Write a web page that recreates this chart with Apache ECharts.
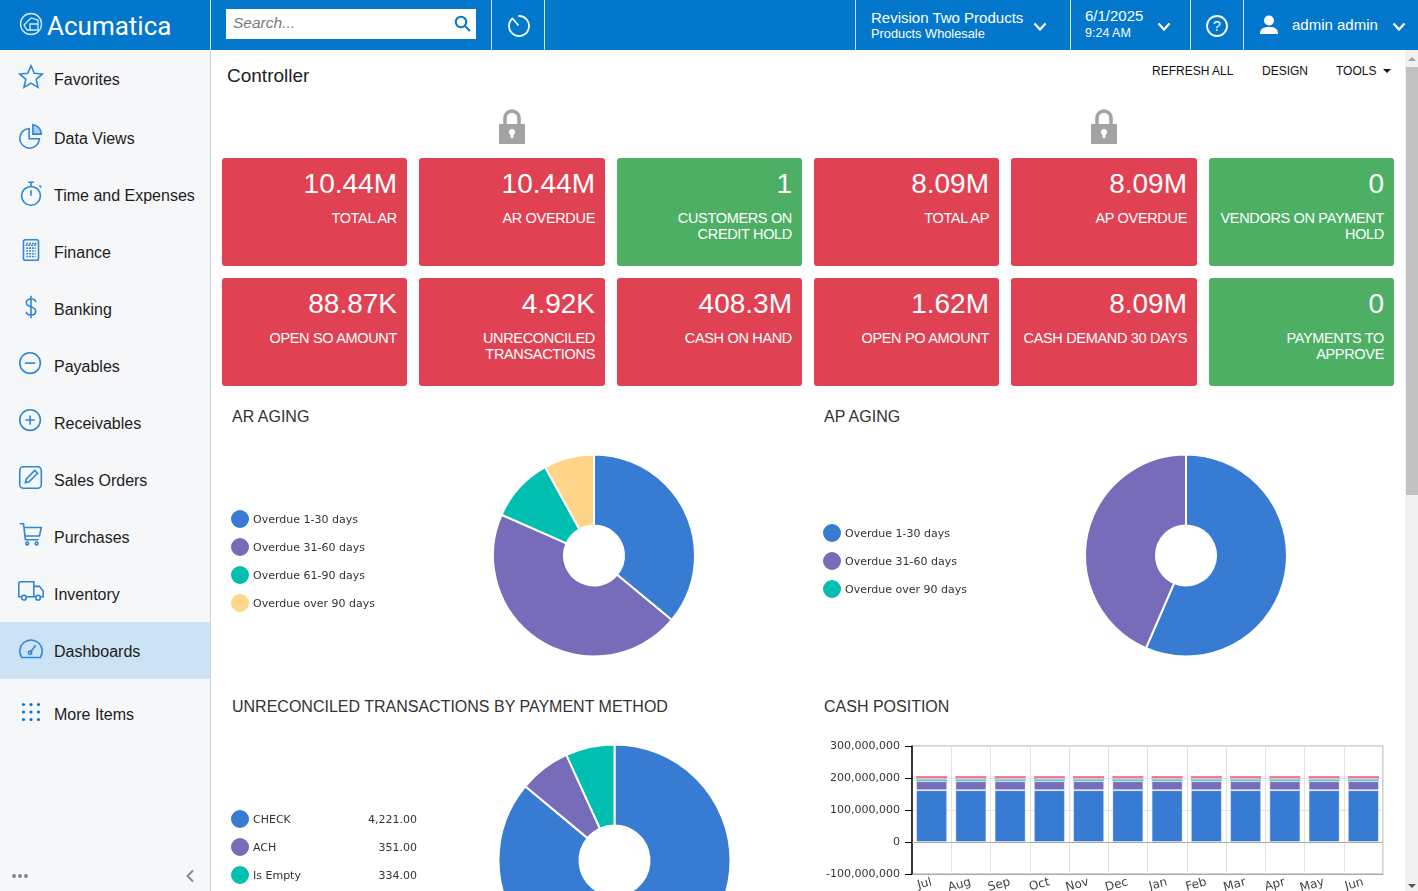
<!DOCTYPE html>
<html>
<head>
<meta charset="utf-8">
<title>Controller</title>
<script src="https://cdn.jsdelivr.net/npm/echarts@6/dist/echarts.min.js"></script>
<style>
  html, body { margin: 0; width: 1418px; height: 891px; overflow: hidden; background: #fff; font-family: "Liberation Sans", Arial, sans-serif; color: #222; }
  .abs { position: absolute; }
  #header { left: 0; top: 0; width: 1418px; height: 50px; background: #0277cc; color: #fff; }
  .sep { position: absolute; top: 0; width: 1px; height: 50px; background: #cfe4f5; }
  #sidebar { left: 0; top: 50px; width: 210px; height: 841px; background: #f5f7f9; border-right: 1px solid #d0d4d8; }
  .nav { position: absolute; left: 54px; font-size: 16px; line-height: 20px; color: #1c1c1c; white-space: nowrap; }
  .nav-icon { position: absolute; left: 16px; width: 30px; height: 30px; }
  #active { position: absolute; left: 0; top: 572px; width: 210px; height: 57px; background: #cbe3f4; }
  .card { position: absolute; width: 185px; height: 108px; border-radius: 3px; color: #fff; text-align: right; box-sizing: border-box; }
  .card .val { position: absolute; right: 10px; top: 9px; font-size: 28px; line-height: 34px; white-space: nowrap; }
  .card .lbl { position: absolute; right: 10px; top: 52px; width: 166px; font-size: 14.5px; line-height: 16px; letter-spacing: -0.33px; }
  .title { position: absolute; font-size: 16px; line-height: 20px; color: #333; white-space: nowrap; }
  .tool { position: absolute; top: 64px; font-size: 12px; line-height: 14px; color: #111; white-space: nowrap; }
  .chart { position: absolute; }
</style>
</head>
<body>
<div class="abs" id="header">
  <svg class="abs" style="left:19px;top:12px" width="25" height="25" viewBox="0 0 25 25" fill="none" stroke="#d9ecf9" stroke-width="1.3"><circle cx="12" cy="12" r="10.5"/><path d="M5 13 L12 6 L19 8 L19 18 L8 18 Z"/><path d="M11 18 L11 12 L19 12"/></svg>
  <div class="abs" style="left:47px;top:9px;font:400 26px/34px Roboto,sans-serif">Acumatica</div>
  <div class="sep" style="left:210px"></div>
  <div class="abs" style="left:226px;top:9px;width:250px;height:30px;background:#fff"></div>
  <div class="abs" style="left:233px;top:13px;font-size:15.5px;font-style:italic;color:#7b7b7b;line-height:20px">Search...</div>
  <svg class="abs" style="left:453px;top:14px" width="20" height="20" viewBox="0 0 20 20" fill="none" stroke="#0277cc" stroke-width="2"><circle cx="8" cy="8" r="5.2"/><path d="M12 12 L17 17"/></svg>
  <div class="sep" style="left:491px"></div>
  <svg class="abs" style="left:506px;top:13px" width="25" height="25" viewBox="0 0 25 25" fill="none" stroke="#fff" stroke-width="1.8"><path d="M7 5 A10 10 0 1 0 12.5 3"/><path d="M7 6 L12.5 12.5"/></svg>
  <div class="sep" style="left:544px"></div>
  <div class="sep" style="left:855px"></div>
  <div class="abs" style="left:871px;top:10px;font-size:15px;line-height:16px;white-space:nowrap">Revision Two Products</div>
  <div class="abs" style="left:871px;top:26px;font-size:12.8px;line-height:15px;white-space:nowrap">Products Wholesale</div>
  <svg class="abs" style="left:1033px;top:22px" width="14" height="10" viewBox="0 0 14 10" fill="none" stroke="#fff" stroke-width="2.2"><path d="M1.5 1.5 L7 7.5 L12.5 1.5"/></svg>
  <div class="sep" style="left:1070px"></div>
  <div class="abs" style="left:1085px;top:8px;font-size:15px;line-height:16px">6/1/2025</div>
  <div class="abs" style="left:1085px;top:26px;font-size:12.5px;line-height:15px">9:24 AM</div>
  <svg class="abs" style="left:1157px;top:22px" width="14" height="10" viewBox="0 0 14 10" fill="none" stroke="#fff" stroke-width="2.2"><path d="M1.5 1.5 L7 7.5 L12.5 1.5"/></svg>
  <div class="sep" style="left:1190px"></div>
  <svg class="abs" style="left:1205px;top:14px" width="24" height="24" viewBox="0 0 24 24" fill="none" stroke="#fff" stroke-width="1.8"><circle cx="12" cy="12" r="10"/><text x="12" y="17" text-anchor="middle" font-size="14" font-family="Liberation Sans" fill="#fff" stroke="none">?</text></svg>
  <div class="sep" style="left:1243px"></div>
  <svg class="abs" style="left:1258px;top:14px" width="22" height="22" viewBox="0 0 22 22" fill="#fff"><circle cx="11" cy="6.5" r="5"/><path d="M2 20 C2 14 6 13 11 13 C16 13 20 14 20 20 Z"/></svg>
  <div class="abs" style="left:1292px;top:16px;font-size:15px;line-height:18px;white-space:nowrap">admin admin</div>
  <svg class="abs" style="left:1392px;top:22px" width="14" height="10" viewBox="0 0 14 10" fill="none" stroke="#fff" stroke-width="2.2"><path d="M1.5 1.5 L7 7.5 L12.5 1.5"/></svg>
</div>

<div class="abs" id="sidebar"><div id="active"></div></div>

<div class="abs" style="left:227px;top:64px;font-size:19px;line-height:24px;color:#222">Controller</div>
<div class="tool" style="left:1152px">REFRESH ALL</div>
<div class="tool" style="left:1262px">DESIGN</div>
<div class="tool" style="left:1336px">TOOLS</div>
<div class="abs" style="left:1383px;top:69px;border-left:4px solid transparent;border-right:4px solid transparent;border-top:4px solid #111"></div>

<svg class="abs" style="left:498px;top:109px" width="28" height="36" viewBox="0 0 28 36"><path d="M7 16 V9 A7 7 0 0 1 21 9 V16" fill="none" stroke="#a3a3a3" stroke-width="3.5"/><rect x="1" y="15" width="26" height="20" rx="1" fill="#a3a3a3"/><circle cx="14" cy="23" r="3" fill="#fff"/><rect x="12.6" y="24" width="2.8" height="5" fill="#fff"/></svg>
<svg class="abs" style="left:1090px;top:109px" width="28" height="36" viewBox="0 0 28 36"><path d="M7 16 V9 A7 7 0 0 1 21 9 V16" fill="none" stroke="#a3a3a3" stroke-width="3.5"/><rect x="1" y="15" width="26" height="20" rx="1" fill="#a3a3a3"/><circle cx="14" cy="23" r="3" fill="#fff"/><rect x="12.6" y="24" width="2.8" height="5" fill="#fff"/></svg>

<div id="cards"></div>

<div class="title" style="left:232px;top:407px">AR AGING</div>
<div class="title" style="left:824px;top:407px">AP AGING</div>
<div class="title" style="left:232px;top:697px">UNRECONCILED TRANSACTIONS BY PAYMENT METHOD</div>
<div class="title" style="left:824px;top:697px">CASH POSITION</div>

<div class="chart" id="arAging" style="left:222px;top:440px;width:580px;height:230px"></div>
<div class="chart" id="apAging" style="left:814px;top:440px;width:580px;height:230px"></div>
<div class="chart" id="unreconciled" style="left:222px;top:730px;width:580px;height:260px"></div>
<div class="chart" id="cashPosition" style="left:814px;top:730px;width:590px;height:161px"></div>

<div class="abs" style="left:1405px;top:50px;width:13px;height:841px;background:#f1f1f1"></div>
<div class="abs" style="left:1406px;top:67px;width:12px;height:428px;background:#c1c1c1"></div>
<div class="abs" style="left:1408px;top:57px;border-left:4px solid transparent;border-right:4px solid transparent;border-bottom:4px solid #a3a3a3"></div>
<div class="abs" style="left:1408px;top:884px;border-left:4px solid transparent;border-right:4px solid transparent;border-top:4px solid #555"></div>

<script>
const BLUE = '#377bd3'
const PURPLE = '#776cb9'
const TEAL = '#00bfb0'
const YELLOW = '#ffd589'
const PINK = '#f46fa8'
const PALE = '#c9e4a8'

// side menu
const navLabels = ['Favorites', 'Data Views', 'Time and Expenses', 'Finance', 'Banking', 'Payables', 'Receivables', 'Sales Orders', 'Purchases', 'Inventory', 'Dashboards', 'More Items']
const navCenters = [80, 139, 196, 253, 310, 367, 424, 481, 538, 595, 652, 715]

// KPI tiles
const tileValues = ['10.44M', '10.44M', '1', '8.09M', '8.09M', '0', '88.87K', '4.92K', '408.3M', '1.62M', '8.09M', '0']
const tileLabels = ['TOTAL AR', 'AR OVERDUE', 'CUSTOMERS ON CREDIT HOLD', 'TOTAL AP', 'AP OVERDUE', 'VENDORS ON PAYMENT HOLD', 'OPEN SO AMOUNT', 'UNRECONCILED TRANSACTIONS', 'CASH ON HAND', 'OPEN PO AMOUNT', 'CASH DEMAND 30 DAYS', 'PAYMENTS TO APPROVE']
const tileGreen = [2, 5, 11]
const tileLefts = [222, 419, 617, 814, 1011, 1209]

// AR aging
const arNames = ['Overdue 1-30 days', 'Overdue 31-60 days', 'Overdue 61-90 days', 'Overdue over 90 days']
const arValues = [3760000, 4760000, 1080000, 840000]

// AP aging
const apNames = ['Overdue 1-30 days', 'Overdue 31-60 days', 'Overdue over 90 days']
const apValues = [4570000, 3520000, 0]

// unreconciled transactions
const payNames = ['CHECK', 'ACH', 'Is Empty']
const payValues = [4221, 351, 334]

// cash position
const months = ['Jul', 'Aug', 'Sep', 'Oct', 'Nov', 'Dec', 'Jan', 'Feb', 'Mar', 'Apr', 'May', 'Jun']
const cashA = [162000000, 162000000, 162000000, 162000000, 162000000, 162000000, 162000000, 162000000, 162000000, 162000000, 162000000, 162000000]
const cashB = [28000000, 28000000, 28000000, 28000000, 28000000, 28000000, 28000000, 28000000, 28000000, 28000000, 28000000, 28000000]
const cashC = [6000000, 6000000, 6000000, 6000000, 6000000, 6000000, 6000000, 6000000, 6000000, 6000000, 6000000, 6000000]
const cashD = [3000000, 3000000, 3000000, 3000000, 3000000, 3000000, 3000000, 3000000, 3000000, 3000000, 3000000, 3000000]
const cashE = [7000000, 7000000, 7000000, 7000000, 7000000, 7000000, 7000000, 7000000, 7000000, 7000000, 7000000, 7000000]

const icons = [
  '<path d="M16 4 L19.5 12 L28 12.8 L21.5 18.5 L23.5 27 L16 22.5 L8.5 27 L10.5 18.5 L4 12.8 L12.5 12 Z"/>',
  '<path d="M14 8 A10.5 10.5 0 1 0 25 19 L14 19 Z"/><path d="M18 4 A10 10 0 0 1 27 14 L18 14 Z" fill="#a9cdec"/>',
  '<circle cx="16" cy="19" r="10"/><path d="M13 4.5 H19 M16 5 V9 M16 13 V19 M25 8 L27 10"/>',
  '<rect x="8" y="5" width="16" height="22" rx="2"/><path d="M11 9 H21 V11 H11 Z M11 14 H21 M11 17 H21 M11 20 H21 M11 23 H21" stroke-dasharray="2 1"/>',
  '<path d="M21 11 C21 8 18 7.5 16 7.5 C13 7.5 11 9 11 11.5 C11 17 21 14.5 21 20.5 C21 23 19 24.5 16 24.5 C13 24.5 11 23 11 21 M16 4 V28"/>',
  '<circle cx="15" cy="15" r="11"/><path d="M9.5 15 H20.5"/>',
  '<circle cx="15" cy="15" r="11"/><path d="M10 15 H20 M15 10 V20"/>',
  '<rect x="4" y="4" width="23" height="23" rx="4"/><path d="M10 21 L11 17 L20 8 L23 11 L14 20 Z"/>',
  '<path d="M4 4 H8 L10 21 H24 M9 8 H27 L25 17 H10"/><circle cx="12" cy="25" r="1.5"/><circle cx="22" cy="25" r="1.5"/>',
  '<path d="M6 21 H3 V7 A2 2 0 0 1 5 5 H19 V21 H11 M19 10 H25 L29 15 V21 H26 M19 21 H21"/><circle cx="8.5" cy="22" r="2.5"/><circle cx="23.5" cy="22" r="2.5"/>',
  '<path d="M6 25 A12 12 0 1 1 26 25 Z"/><path d="M15 20 L21 12"/><circle cx="15" cy="20" r="1.8"/>',
  '<g fill="#0277cc" stroke="none"><circle cx="8" cy="8" r="1.7"/><circle cx="16" cy="8" r="1.7"/><circle cx="24" cy="8" r="1.7"/><circle cx="8" cy="16" r="1.7"/><circle cx="16" cy="16" r="1.7"/><circle cx="24" cy="16" r="1.7"/><circle cx="8" cy="24" r="1.7"/><circle cx="16" cy="24" r="1.7"/><circle cx="24" cy="24" r="1.7"/></g>',
]

const sidebar = document.getElementById('sidebar')
navLabels.forEach((label, i) => {
  const top = navCenters[i] - 50
  sidebar.insertAdjacentHTML('beforeend',
    `<svg class="nav-icon" style="top:${top - 18}px" viewBox="0 0 32 32" fill="none" stroke="#2f86d6" stroke-width="1.7">${icons[i]}</svg>` +
    `<div class="nav" style="top:${top - 10}px">${label}</div>`)
})
sidebar.insertAdjacentHTML('beforeend',
  '<svg class="abs" style="left:11px;top:822px" width="20" height="8"><g fill="#7f8a93"><circle cx="3" cy="4" r="2"/><circle cx="9" cy="4" r="2"/><circle cx="15" cy="4" r="2"/></g></svg>' +
  '<svg class="abs" style="left:185px;top:819px" width="10" height="14" fill="none" stroke="#7f8a93" stroke-width="2"><path d="M8 1.5 L2.5 7 L8 12.5"/></svg>')

const cards = document.getElementById('cards')
tileValues.forEach((value, i) => {
  const row = i < 6 ? 158 : 278
  const bg = tileGreen.includes(i) ? '#4caf63' : '#e14253'
  const width = i % 6 === 1 || i % 6 === 4 ? 186 : 185
  cards.insertAdjacentHTML('beforeend',
    `<div class="card" style="left:${tileLefts[i % 6]}px;top:${row}px;width:${width}px;background:${bg}">` +
    `<div class="val">${value}</div><div class="lbl">${tileLabels[i]}</div></div>`)
})

function pieOption(names, values, colors, center, radius, legendTop, legendFormat) {
  return {
    animation: false,
    legend: {
      orient: 'vertical',
      left: 7,
      top: legendTop,
      padding: 0,
      icon: 'circle',
      itemWidth: 20,
      itemHeight: 22,
      itemGap: 6,
      selectedMode: false,
      formatter: legendFormat,
      textStyle: {
        fontFamily: 'DejaVu Sans',
        fontSize: 11,
        color: '#333',
        padding: [2, 0, 0, -2],
        rich: {
          n: { fontFamily: 'DejaVu Sans', fontSize: 11, color: '#333', width: 100 },
          v: { fontFamily: 'DejaVu Sans', fontSize: 11, color: '#333', width: 64, align: 'right' },
        },
      },
    },
    series: [{
      type: 'pie',
      center,
      radius,
      startAngle: 90,
      clockwise: true,
      label: { show: false },
      labelLine: { show: false },
      itemStyle: { borderColor: '#fff', borderWidth: 2 },
      data: names.map((name, i) => ({ name, value: values[i], itemStyle: { color: colors[i] } })),
    }],
  }
}

const arChart = echarts.init(document.getElementById('arAging'), null, { renderer: 'canvas' })
arChart.setOption(pieOption(arNames, arValues, [BLUE, PURPLE, TEAL, YELLOW], [372, 115.5], [30, 101], 68))

const apChart = echarts.init(document.getElementById('apAging'), null, { renderer: 'canvas' })
apChart.setOption(pieOption(apNames, apValues, [BLUE, PURPLE, TEAL], [372, 115.5], [30, 101], 82))

const payChart = echarts.init(document.getElementById('unreconciled'), null, { renderer: 'canvas' })
payChart.setOption(pieOption(payNames, payValues, [BLUE, PURPLE, TEAL], [392.5, 130.5], [35, 116], 78,
  name => `{n|${name}}{v|${payValues[payNames.indexOf(name)].toLocaleString('en-US', { minimumFractionDigits: 2 })}}`))

const barBorder = 'rgba(255,255,255,0.35)'
const barSeries = (data, color, borderWidth) => ({
  type: 'bar',
  stack: 'cash',
  barWidth: 31,
  data,
  itemStyle: { color, borderColor: barBorder, borderWidth },
})

const cashChart = echarts.init(document.getElementById('cashPosition'), null, { renderer: 'canvas' })
cashChart.setOption({
  animation: false,
  grid: { left: 98, top: 16, width: 471, height: 128, outerBoundsMode: 'none', show: true, borderColor: '#a9a9a9', borderWidth: 1, backgroundColor: 'transparent' },
  xAxis: {
    type: 'category',
    data: months,
    axisLine: { onZero: false, lineStyle: { color: '#a9a9a9' } },
    axisTick: { show: false },
    splitLine: { show: true, interval: 0, lineStyle: { color: '#e2e2e2' } },
    axisLabel: { interval: 0, rotate: 15, margin: 8, fontFamily: 'DejaVu Sans', fontSize: 12, color: '#444' },
  },
  yAxis: {
    type: 'value',
    min: -100000000,
    max: 300000000,
    interval: 100000000,
    axisLine: { show: true, lineStyle: { color: '#000', width: 1.5 } },
    axisTick: { show: true, length: 7, lineStyle: { color: '#000', width: 1 } },
    splitLine: { show: true, lineStyle: { color: '#e2e2e2' } },
    axisLabel: {
      margin: 12,
      fontFamily: 'DejaVu Sans',
      fontSize: 11,
      color: '#333',
      formatter: v => v.toLocaleString('en-US'),
    },
  },
  series: [
    Object.assign(barSeries(cashA, BLUE, 1), {
      markLine: { silent: true, symbol: 'none', label: { show: false }, lineStyle: { color: '#a9a9a9', width: 1, type: 'solid' }, data: [{ yAxis: 0 }] },
    }),
    barSeries(cashB, PURPLE, 1),
    barSeries(cashC, '#5cc9be', 0),
    barSeries(cashD, PALE, 0),
    barSeries(cashE, PINK, 0),
  ],
})
</script>
</body>
</html>
